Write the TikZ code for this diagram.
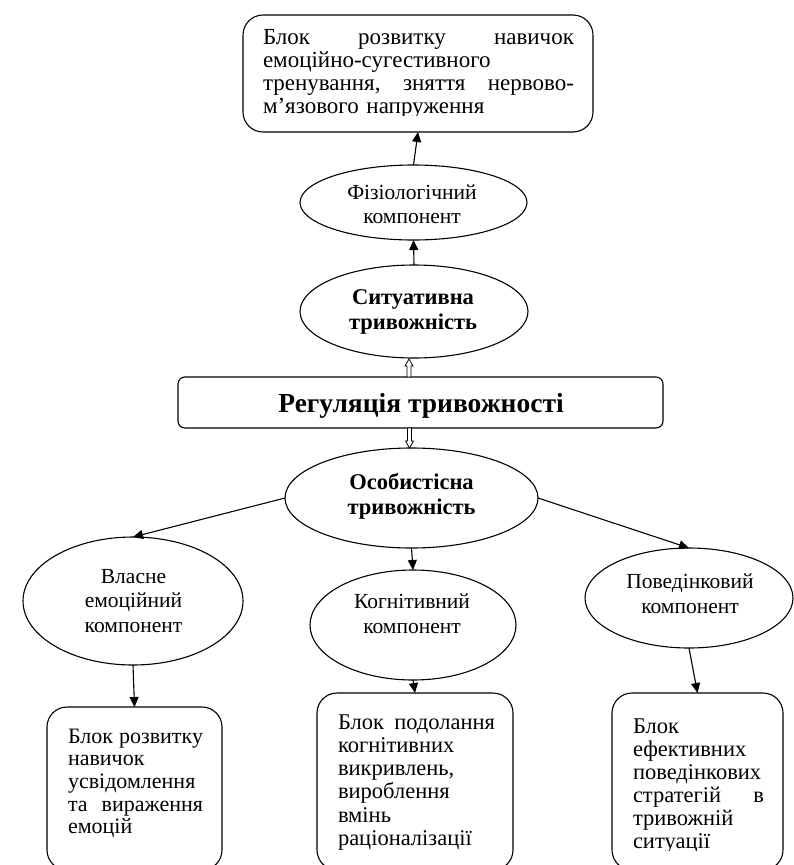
\documentclass[tikz,border=0pt]{standalone}
\usepackage{fontspec}
\setmainfont{Liberation Serif}
\usetikzlibrary{shapes.geometric,arrows.meta,calc}
\begin{document}
\begin{tikzpicture}[x=1pt,y=-1pt,
  every node/.style={inner sep=0pt, outer sep=0pt},
  ell/.style={draw, ellipse, line width=1.1pt},
  rbox/.style={draw, rectangle, rounded corners=20pt, line width=1.1pt},
  regbox/.style={draw, rectangle, rounded corners=7pt, line width=1.1pt},
  etxt/.style={font=\fontsize{21.5}{24.5}\selectfont, align=center, text width=200pt, anchor=base},
  btxt/.style={font=\bfseries\fontsize{22.5}{25}\selectfont, align=center, text width=200pt, anchor=base},
  boxtxt/.style={align=left, text width=#1, anchor=base west},
  arr/.style={line width=1.1pt, -{Triangle[length=10pt,width=9pt]}},
  hollow/.style={draw, line width=0.8pt, fill=white}
]
\clip (0,0) rectangle (794,865);

% shapes
\node[rbox, minimum width=350pt, minimum height=117pt] (top) at (418,73.5) {};
\node[ell, minimum width=227pt, minimum height=75pt] (fiz) at (413.5,202.5) {};
\node[ell, minimum width=228pt, minimum height=93pt] (sit) at (414,311.5) {};
\node[regbox, minimum width=485pt, minimum height=51pt] (reg) at (420.5,402.5) {};
\node[ell, minimum width=253pt, minimum height=100pt] (osob) at (411.5,498) {};
\node[ell, minimum width=220pt, minimum height=128pt] (vl) at (133,601) {};
\node[ell, minimum width=206pt, minimum height=110pt] (kog) at (413,625) {};
\node[ell, minimum width=208pt, minimum height=100pt] (pov) at (689,598) {};
\node[rbox, minimum width=175pt, minimum height=163pt] (lb) at (134.5,788.5) {};
\node[rbox, minimum width=196pt, minimum height=177pt] (mb) at (415,781.5) {};
\node[rbox, minimum width=171pt, minimum height=177pt] (rb) at (697.5,781.5) {};

% texts
\node[etxt] (fizt) at (412,199) {Фізіологічний\\компонент};
\node[btxt] (sitt) at (413,304.5) {Ситуативна\\тривожність};
\node[font=\bfseries\fontsize{27.5}{30}\selectfont, anchor=base] (regt) at (421,412) {Регуляція тривожності};
\node[btxt] (osobt) at (411.5,489) {Особистісна\\тривожність};
\node[etxt] (vlt) at (133.5,583) {Власне\\емоційний\\компонент};
\node[etxt] (kogt) at (412,608.5) {Когнітивний\\компонент};
\node[etxt] (povt) at (690,588.5) {Поведінковий\\компонент};

\begin{scope}
\clip (243,15) rectangle (593,115);
\node[boxtxt=311pt, font=\fontsize{23}{23.3}\selectfont] (topt) at (263,44) {Блок\hfill розвитку\hfill навичок\\емоційно-сугестивного\\тренування,\hfill зняття\hfill нервово-\\м’язового напруження};
\end{scope}
\node[boxtxt=135pt, font=\fontsize{22}{22.7}\selectfont] (lbt) at (68,743) {Блок\hfill розвитку\\навичок\\усвідомлення\\та\hfill вираження\\емоцій};
\begin{scope}
\clip (300,700) rectangle (794,850.5);
\node[boxtxt=157pt, font=\fontsize{22.5}{23.3}\selectfont] (mbt) at (338,729) {Блок\hfill подолання\\когнітивних\\викривлень,\\вироблення\\вмінь\\раціоналізації};
\node[boxtxt=131pt, font=\fontsize{22.5}{23}\selectfont] (rbt) at (633,733) {Блок\\ефективних\\поведінкових\\стратегій\hfill в\\тривожній\\ситуації};
\end{scope}

% connectors
\draw[arr] (fiz.north) -- (top.south);
\draw[arr] (sit.north) -- (fiz.south);
\draw[arr] (osob.west) -- (vl.north);
\draw[arr] (osob.east) -- (pov.north);
\draw[arr] (osob.south) -- (kog.north);
\draw[arr] (vl.south) -- (lb.north);
\draw[arr] (kog.south) -- (mb.north);
\draw[arr] (pov.south) -- (rb.north);

% hollow block arrows
\draw[hollow] ([xshift=-13.5pt]reg.north) -- ++(0pt,11pt) -- ++(-2pt,0pt) -- ++(4pt,7pt) -- ++(4pt,-7pt) -- ++(-2pt,0pt) -- ++(0pt,-11pt) -- cycle;
\draw[hollow] ([xshift=-13pt]reg.south) -- ++(0pt,-13pt) -- ++(-2pt,0pt) -- ++(4pt,-7pt) -- ++(4pt,7pt) -- ++(-2pt,0pt) -- ++(0pt,13pt) -- cycle;
\end{tikzpicture}
\end{document}
